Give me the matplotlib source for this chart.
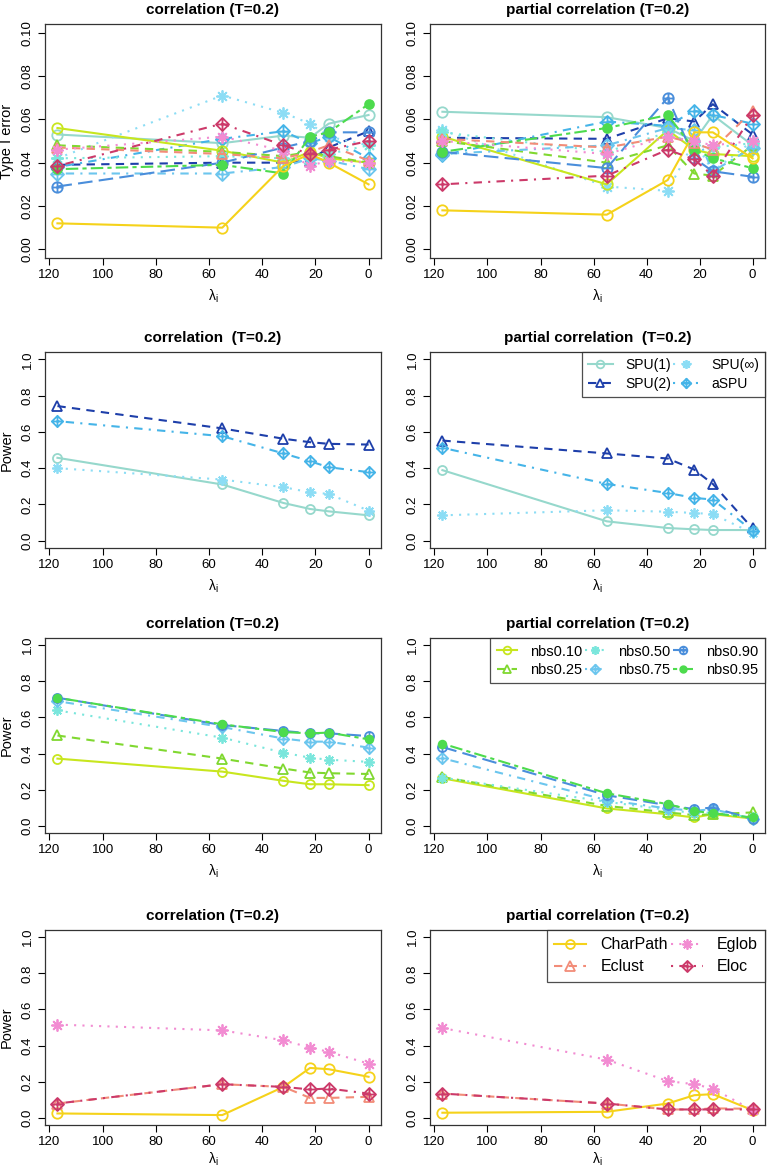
import numpy as np
import matplotlib.pyplot as plt
from matplotlib.path import Path

plt.rcParams['font.family'] = ['Liberation Sans', 'DejaVu Sans']
plt.rcParams['mathtext.fontset'] = 'custom'
plt.rcParams['mathtext.rm'] = 'Liberation Sans'
plt.rcParams['mathtext.it'] = 'Liberation Sans:italic'

# lambda_i values on the x axis
lam = [117, 55, 32, 22, 15, 0]

spu_names = ['SPU(1)', 'SPU(2)', 'SPU(∞)', 'aSPU']
nbs_names = ['nbs0.10', 'nbs0.25', 'nbs0.50', 'nbs0.75', 'nbs0.90', 'nbs0.95']
graph_names = ['CharPath', 'Eclust', 'Eglob', 'Eloc']

# type I error, correlation
t1_cor = {
    'SPU(1)':   [0.053, 0.049, 0.0525, 0.0515, 0.058, 0.062],
    'SPU(2)':   [0.039, 0.040, 0.040, 0.041, 0.047, 0.0545],
    'SPU(∞)':   [0.042, 0.071, 0.063, 0.058, 0.052, 0.048],
    'aSPU':     [0.038, 0.051, 0.0545, 0.049, 0.052, 0.042],
    'nbs0.10':  [0.056, 0.0455, 0.040, 0.045, 0.042, 0.040],
    'nbs0.25':  [0.048, 0.045, 0.043, 0.045, 0.043, 0.040],
    'nbs0.50':  [0.042, 0.043, 0.042, 0.040, 0.044, 0.048],
    'nbs0.75':  [0.035, 0.035, 0.038, 0.042, 0.041, 0.037],
    'nbs0.90':  [0.029, 0.040, 0.047, 0.050, 0.054, 0.054],
    'nbs0.95':  [0.037, 0.039, 0.035, 0.052, 0.054, 0.067],
    'CharPath': [0.012, 0.010, 0.0385, 0.044, 0.040, 0.030],
    'Eclust':   [0.047, 0.044, 0.042, 0.045, 0.048, 0.041],
    'Eglob':    [0.046, 0.052, 0.0455, 0.0385, 0.041, 0.040],
    'Eloc':     [0.0385, 0.058, 0.048, 0.044, 0.046, 0.050],
}

# type I error, partial correlation
t1_pc = {
    'SPU(1)':   [0.0635, 0.061, 0.056, 0.050, 0.062, 0.048],
    'SPU(2)':   [0.0515, 0.051, 0.0605, 0.059, 0.067, 0.053],
    'SPU(∞)':   [0.055, 0.029, 0.027, 0.050, 0.036, 0.050],
    'aSPU':     [0.0435, 0.059, 0.057, 0.064, 0.062, 0.058],
    'nbs0.10':  [0.052, 0.030, 0.055, 0.046, 0.044, 0.043],
    'nbs0.25':  [0.050, 0.040, 0.048, 0.035, 0.034, 0.048],
    'nbs0.50':  [0.054, 0.045, 0.054, 0.048, 0.047, 0.049],
    'nbs0.75':  [0.044, 0.048, 0.056, 0.055, 0.036, 0.047],
    'nbs0.90':  [0.045, 0.0375, 0.070, 0.042, 0.036, 0.0335],
    'nbs0.95':  [0.045, 0.056, 0.062, 0.046, 0.042, 0.0375],
    'CharPath': [0.018, 0.016, 0.032, 0.054, 0.054, 0.042],
    'Eclust':   [0.051, 0.047, 0.052, 0.049, 0.046, 0.064],
    'Eglob':    [0.050, 0.044, 0.052, 0.050, 0.048, 0.050],
    'Eloc':     [0.030, 0.034, 0.046, 0.0415, 0.034, 0.062],
}

# power, SPU tests
pw_spu_cor = {
    'SPU(1)': [0.457, 0.310, 0.208, 0.175, 0.162, 0.140],
    'SPU(2)': [0.742, 0.619, 0.562, 0.543, 0.534, 0.530],
    'SPU(∞)': [0.400, 0.337, 0.295, 0.267, 0.258, 0.166],
    'aSPU':   [0.659, 0.576, 0.481, 0.438, 0.405, 0.378],
}
pw_spu_pc = {
    'SPU(1)': [0.389, 0.107, 0.070, 0.063, 0.059, 0.059],
    'SPU(2)': [0.552, 0.481, 0.453, 0.392, 0.313, 0.068],
    'SPU(∞)': [0.140, 0.168, 0.160, 0.153, 0.147, 0.042],
    'aSPU':   [0.512, 0.313, 0.263, 0.236, 0.227, 0.055],
}

# power, NBS
pw_nbs_cor = {
    'nbs0.10': [0.372, 0.300, 0.249, 0.230, 0.230, 0.225],
    'nbs0.25': [0.500, 0.372, 0.317, 0.295, 0.291, 0.287],
    'nbs0.50': [0.639, 0.488, 0.405, 0.377, 0.366, 0.354],
    'nbs0.75': [0.690, 0.547, 0.483, 0.466, 0.466, 0.433],
    'nbs0.90': [0.709, 0.558, 0.525, 0.512, 0.512, 0.497],
    'nbs0.95': [0.709, 0.562, 0.519, 0.512, 0.516, 0.479],
}
pw_nbs_pc = {
    'nbs0.10': [0.263, 0.096, 0.064, 0.046, 0.064, 0.040],
    'nbs0.25': [0.270, 0.110, 0.074, 0.059, 0.064, 0.074],
    'nbs0.50': [0.267, 0.133, 0.088, 0.070, 0.074, 0.046],
    'nbs0.75': [0.374, 0.142, 0.096, 0.083, 0.092, 0.040],
    'nbs0.90': [0.436, 0.169, 0.114, 0.092, 0.101, 0.037],
    'nbs0.95': [0.455, 0.180, 0.120, 0.083, 0.068, 0.046],
}

# power, graph metrics
pw_gr_cor = {
    'CharPath': [0.024, 0.015, 0.171, 0.276, 0.269, 0.227],
    'Eclust':   [0.079, 0.186, 0.171, 0.110, 0.110, 0.116],
    'Eglob':    [0.516, 0.484, 0.429, 0.389, 0.365, 0.300],
    'Eloc':     [0.079, 0.186, 0.171, 0.157, 0.162, 0.134],
}
pw_gr_pc = {
    'CharPath': [0.028, 0.033, 0.079, 0.125, 0.131, 0.042],
    'Eclust':   [0.134, 0.079, 0.046, 0.046, 0.052, 0.050],
    'Eglob':    [0.497, 0.322, 0.203, 0.186, 0.162, 0.042],
    'Eloc':     [0.134, 0.079, 0.046, 0.046, 0.046, 0.046],
}

# R-like markers
MV, LT, CL = Path.MOVETO, Path.LINETO, Path.CLOSEPOLY
diamond_plus = Path.make_compound_path(
    Path([(0, 1), (1, 0), (0, -1), (-1, 0), (0, 1)], [MV, LT, LT, LT, CL]),
    Path([(0, 1), (0, -1)], [MV, LT]),
    Path([(-1, 0), (1, 0)], [MV, LT]))
circle_plus = Path.make_compound_path(
    Path.unit_circle(),
    Path([(0, 1), (0, -1)], [MV, LT]),
    Path([(-1, 0), (1, 0)], [MV, LT]))

lty = {
    'solid': '-',
    'dashed': (0, (4, 3)),
    'dotted': (0, (1, 3)),
    'dotdash': (0, (1, 3, 4, 3)),
    'longdash': (0, (7, 3)),
    'twodash': (0, (2, 2, 6, 2)),
}

styles = {
    'SPU(1)':   ('#96D8CC', 'solid', 'o'),
    'SPU(2)':   ('#1E3FAA', 'dashed', '^'),
    'SPU(∞)':   ('#8CDDF5', 'dotted', 'ast'),
    'aSPU':     ('#45B4E8', 'dotdash', 'dp'),
    'nbs0.10':  ('#C8E61E', 'solid', 'o'),
    'nbs0.25':  ('#80D830', 'dashed', '^'),
    'nbs0.50':  ('#7AE6DC', 'dotted', 'ast'),
    'nbs0.75':  ('#6CC6EE', 'dotdash', 'dp'),
    'nbs0.90':  ('#4A8EDB', 'longdash', 'cp'),
    'nbs0.95':  ('#4DDB4D', 'twodash', 'fo'),
    'CharPath': ('#F5D21A', 'solid', 'o'),
    'Eclust':   ('#F28C78', 'dashed', '^'),
    'Eglob':    ('#F28CD2', 'dotted', 'ast'),
    'Eloc':     ('#CC3A6A', 'dotdash', 'dp'),
}


def draw(ax, data, names, ms):
    for name in names:
        col, ls, mk = styles[name]
        kw = dict(color=col, ls=lty[ls], lw=1.5, mew=1.3, label=name)
        if mk == 'o':
            kw.update(marker='o', mfc='none', ms=ms)
        elif mk == '^':
            kw.update(marker='^', mfc='none', ms=ms * 1.05)
        elif mk == 'ast':
            kw.update(marker=(8, 2, 0), ms=ms * 1.15)
        elif mk == 'dp':
            kw.update(marker=diamond_plus, mfc='none', ms=ms * 1.25)
        elif mk == 'cp':
            kw.update(marker=circle_plus, mfc='none', ms=ms)
        elif mk == 'fo':
            kw.update(marker='o', mfc=col, mec=col, ms=ms * 0.85)
        ax.plot(lam, data[name], **kw)


fig = plt.figure(figsize=(7.67, 11.69), dpi=100)
W, H = 767, 1169
cols = [(45, 336), (430, 335)]
rows = [(24, 258), (352, 548), (638, 833), (930, 1125)]

all_names = spu_names + nbs_names + graph_names
panels = [
    [(t1_cor, all_names, 'correlation (T=0.2)'), (t1_pc, all_names, 'partial correlation (T=0.2)')],
    [(pw_spu_cor, spu_names, 'correlation  (T=0.2)'), (pw_spu_pc, spu_names, 'partial correlation  (T=0.2)')],
    [(pw_nbs_cor, nbs_names, 'correlation (T=0.2)'), (pw_nbs_pc, nbs_names, 'partial correlation (T=0.2)')],
    [(pw_gr_cor, graph_names, 'correlation (T=0.2)'), (pw_gr_pc, graph_names, 'partial correlation (T=0.2)')],
]

# legend settings per row: ncol, fontsize, handlelength, labelspacing
leg_opts = {1: (2, 10, 1.8, 0.35), 2: (3, 10.5, 1.4, 0.3), 3: (2, 11.5, 2.0, 0.45)}

for r, (top, bot) in enumerate(rows):
    for c, (left, width) in enumerate(cols):
        ax = fig.add_axes([left / W, 1 - bot / H, width / W, (bot - top) / H])
        data, names, title = panels[r][c]
        ms = 7.5 if r in (0, 3) else 6.5
        draw(ax, data, names, ms)

        ax.set_xlim(117 + 0.04 * 117, -0.04 * 117)
        ax.set_xticks([120, 100, 80, 60, 40, 20, 0])
        if r == 0:
            ax.set_ylim(-0.004, 0.104)
            ax.set_yticks(np.arange(0, 0.101, 0.02))
            ax.set_yticklabels(['%.2f' % v for v in np.arange(0, 0.101, 0.02)])
        else:
            ax.set_ylim(-0.04, 1.04)
            ax.set_yticks(np.arange(0, 1.01, 0.2))
            ax.set_yticklabels(['%.1f' % v for v in np.arange(0, 1.01, 0.2)])
        for lab in ax.get_yticklabels():
            lab.set_rotation(90)
            lab.set_va('center')
        ax.tick_params(direction='out', length=5, width=0.8, labelsize=9.5, pad=3)
        for s in ax.spines.values():
            s.set_linewidth(0.9)
            s.set_color('#333333')

        ax.set_title(title, fontsize=11, fontweight='bold', pad=7)
        ax.set_xlabel(r'λ$_\mathrm{i}$', fontsize=10, labelpad=5 if r < 3 else 2)
        if c == 0:
            ax.set_ylabel('Type I error' if r == 0 else 'Power', fontsize=10.5)
            ax.yaxis.label.set_va('center')
            ax.yaxis.set_label_coords(-0.113, 0.5)

        if c == 1 and r > 0:
            ncol, fs, hl, lsp = leg_opts[r]
            leg = ax.legend(loc='upper right', ncol=ncol, fontsize=fs, frameon=True,
                            fancybox=False, borderaxespad=0, handlelength=hl,
                            handletextpad=0.9, columnspacing=0.15, labelspacing=lsp,
                            borderpad=0.45, markerscale=0.85)
            leg.get_frame().set_edgecolor('#222222')
            leg.get_frame().set_linewidth(0.9)

fig.savefig('out.png', dpi=100)
